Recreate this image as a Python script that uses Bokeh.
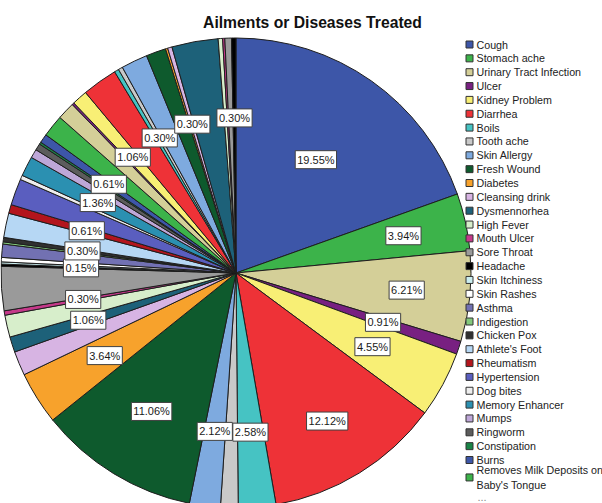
import math

from bokeh.core.properties import value
from bokeh.embed import file_html
from bokeh.models import ColumnDataSource, Range1d
from bokeh.plotting import figure
from bokeh.resources import INLINE

W, H = 602, 503

chart_title = "Ailments or Diseases Treated"

# Ailments named in the legend, in slice order (clockwise from 12 o'clock)
ailments = [
    "Cough", "Stomach ache", "Urinary Tract Infection", "Ulcer", "Kidney Problem",
    "Diarrhea", "Boils", "Tooth ache", "Skin Allergy", "Fresh Wound", "Diabetes",
    "Cleansing drink", "Dysmennorhea", "High Fever", "Mouth Ulcer", "Sore Throat",
    "Headache", "Skin Itchiness", "Skin Rashes", "Asthma", "Indigestion",
    "Chicken Pox", "Athlete's Foot", "Rheumatism", "Hypertension", "Dog bites",
    "Memory Enhancer", "Mumps", "Ringworm", "Constipation", "Burns",
    "Removes Milk Deposits on Baby's Tongue",
]
counts = [
    129, 26, 41, 6, 30,
    80, 17, 8, 14, 73, 24,
    11, 7, 10, 2, 20,
    1, 1, 2, 6, 1,
    2, 11, 4, 12, 2,
    9, 4, 3, 1, 4,
    10,
]
# Remaining ailments that continue past the legend's "..."
more_counts = [8, 1, 7, 16, 2, 2, 12, 9, 1, 2, 21, 2, 1, 3, 2]

# 30-colour cycle; slices past the 30th reuse it from the start
palette = [
    "#3d56a8", "#3cb34a", "#d4cf98", "#782081", "#f8ef75",
    "#ee3237", "#46c3c3", "#c9c9c9", "#7eaadf", "#0e5a2d",
    "#f7a22c", "#d7b4e3", "#1d6179", "#d7eecb", "#c5398a",
    "#9a9a9a", "#000000", "#cbeef0", "#ffffff", "#7271b2",
    "#84c97c", "#303030", "#b6d7f4", "#b3151d", "#5a5ebf",
    "#eeeeee", "#2b90b1", "#bea7d8", "#5c5c5c", "#198446",
]

# slices whose percentage is printed on the chart
labelled = [0, 1, 2, 3, 4, 5, 6, 8, 9, 10, 12, 14, 16, 21, 23, 26, 30, 34, 37, 41, 46]
label_radius = {0: 0.59, 1: 0.73, 2: 0.73, 5: 0.74, 6: 0.68, 8: 0.68, 9: 0.69}

all_counts = counts + more_counts
total = sum(all_counts)

cx, cy, R = 235.5, H - 272.5, 235.0

starts, ends, colors, mids = [], [], [], []
cum = 0
for i, c in enumerate(all_counts):
    a0 = cum / total * 2 * math.pi
    cum += c
    a1 = cum / total * 2 * math.pi
    starts.append(math.pi / 2 - a0)
    ends.append(math.pi / 2 - a1)
    mids.append((a0 + a1) / 2)
    colors.append(palette[i % len(palette)])

p = figure(
    width=W, height=H,
    x_range=Range1d(0, W), y_range=Range1d(0, H),
    output_backend="svg", toolbar_location=None,
    x_axis_location=None, y_axis_location=None,
    min_border=0, outline_line_color=None,
)
p.grid.visible = False
p.background_fill_color = "white"
p.border_fill_color = "white"

pie = ColumnDataSource(dict(start=starts, end=ends, color=colors))
p.wedge(
    x=cx, y=cy, radius=R, start_angle="start", end_angle="end",
    direction="clock", fill_color="color", line_color="#1e1e1e",
    line_width=1, source=pie,
)

# percentage labels
lx, ly, lt = [], [], []
for i in labelled:
    r = R * label_radius.get(i, 0.66)
    lx.append(cx + r * math.sin(mids[i]))
    ly.append(cy + r * math.cos(mids[i]))
    lt.append(f"{100 * all_counts[i] / total:.2f}%")
p.text(
    x=lx, y=ly, text=lt,
    text_font=value("Liberation Sans"), text_font_size="11px",
    text_color="#1a1a1a", text_align="center", text_baseline="middle",
    background_fill_color="white", border_line_color="#404040",
    border_line_width=1, padding=(2, 3),
)

# title
p.text(
    x=[312], y=[H - 22], text=[chart_title],
    text_font=value("Liberation Sans"), text_font_size="15.7px",
    text_font_style="bold", text_color="#111111",
    text_align="center", text_baseline="middle",
)

# legend
row_h = 13.85
yc = 44 - row_h
sx, sy, sc, tx, ty, tt = [], [], [], [], [], []
for i, name in enumerate(ailments):
    if len(name) > 26:
        cut = name.rfind(" ", 0, 25)
        name = name[:cut] + "\n" + name[cut + 1:]
    lines = name.count("\n") + 1
    yc += row_h + (lines - 1) * 3.6
    sx.append(469)
    sy.append(H - yc)
    sc.append(palette[i % len(palette)])
    tx.append(476)
    ty.append(H - yc)
    tt.append(name)

p.rect(x=sx, y=sy, width=7, height=7, fill_color=sc, line_color="#333333", line_width=1)
p.text(
    x=tx, y=ty, text=tt,
    text_font=value("Liberation Sans"), text_font_size="10.7px",
    text_color="#222222", text_align="left", text_baseline="middle",
    text_line_height=1.22,
)
p.text(
    x=[477], y=[H - 496], text=["..."],
    text_font=value("Liberation Sans"), text_font_size="11px",
    text_color="#8a8a8a", text_align="left", text_baseline="alphabetic",
)

open("out.html", "w").write(file_html(p, INLINE))
